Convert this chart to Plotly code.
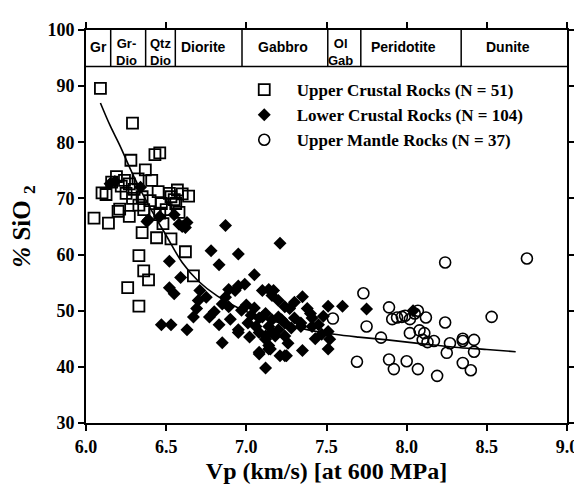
import plotly.graph_objects as go

# ---------------- data ----------------
upper_x = [6.09, 6.29, 6.43, 6.46, 6.28, 6.37, 6.19, 6.24, 6.325, 6.41,
           6.27, 6.10, 6.125, 6.25, 6.29, 6.35, 6.52, 6.57, 6.64, 6.47,
           6.56, 6.50, 6.46, 6.43, 6.21, 6.27, 6.36, 6.05, 6.14, 6.35,
           6.44, 6.53, 6.62, 6.33, 6.36, 6.39, 6.67, 6.26, 6.33, 6.20,
           6.53, 6.16, 6.22, 6.30, 6.40, 6.55, 6.60, 6.45, 6.58, 6.33, 6.48]
upper_y = [89.6, 83.4, 77.8, 78.1, 76.8, 75.1, 73.9, 73.2, 73.5, 73.2,
           72.6, 71.0, 70.7, 70.9, 70.0, 70.3, 70.9, 71.5, 70.4, 69.1,
           69.1, 68.0, 67.4, 67.1, 68.1, 66.8, 68.0, 66.5, 65.6, 63.9,
           63.0, 62.8, 60.5, 59.8, 57.1, 55.5, 56.2, 54.1, 50.8, 67.7,
           70.3, 72.9, 72.2, 71.6, 69.6, 69.8, 70.8, 71.2, 67.5, 68.8, 65.5]

lower_x = [6.15, 6.18, 6.34, 6.39, 6.46, 6.38, 6.55, 6.58, 6.63, 6.62,
           6.60, 6.87, 6.78, 6.95, 6.83, 6.52, 6.59, 7.05, 7.21, 6.52,
           6.55, 6.71, 6.75, 6.70, 6.89, 6.95, 6.99, 6.87, 6.85, 6.89,
           7.14, 7.16, 7.20, 7.24, 6.69, 6.67, 6.77, 6.83, 6.47, 6.53,
           6.63, 6.85, 6.97, 7.03, 7.08, 7.01, 6.95, 7.06, 7.12, 7.16,
           7.20, 7.14, 7.20, 7.24, 7.08, 7.12, 7.18, 7.08, 7.14, 7.17,
           7.10, 7.35, 7.27, 7.38, 7.51, 7.60, 7.75, 8.04, 7.22, 7.30,
           7.34, 7.41, 7.45, 7.51, 7.47, 7.52, 7.41, 7.16, 7.24, 7.28,
           7.34, 7.14, 7.24, 7.35, 7.51, 7.12, 7.25, 7.21, 7.08, 7.15,
           6.95, 7.10, 7.12, 6.93, 7.00, 7.05, 7.30, 7.40, 7.48, 6.80,
           6.90, 7.26, 7.43, 7.02]
lower_y = [72.6, 73.0, 72.0, 66.2, 66.8, 65.9, 67.1, 65.4, 65.7, 64.8,
           65.0, 65.2, 60.7, 60.1, 58.2, 58.8, 55.9, 56.4, 62.0, 54.1,
           53.0, 53.6, 52.4, 51.8, 53.8, 54.4, 54.7, 52.4, 51.2, 50.7,
           53.8, 52.7, 51.8, 50.7, 50.4, 48.9, 48.9, 47.5, 47.5, 47.5,
           46.6, 44.3, 50.1, 49.2, 48.7, 47.8, 46.6, 47.2, 49.5, 48.4,
           48.9, 47.2, 46.6, 47.8, 46.1, 44.9, 45.5, 42.6, 43.2, 53.6,
           53.6, 52.5, 50.4, 50.4, 50.8, 50.8, 50.3, 50.0, 48.4, 48.7,
           47.8, 48.7, 47.5, 46.3, 45.8, 44.9, 47.2, 46.1, 45.5, 46.9,
           47.2, 43.8, 42.0, 42.9, 43.2, 39.8, 42.0, 42.0, 42.3, 43.2,
           46.1, 48.9, 45.5, 53.6, 51.0, 50.5, 51.5, 49.5, 49.0, 49.8,
           48.5, 44.2, 45.0, 45.3]

mantle_x = [7.54, 7.69, 7.73, 7.75, 7.84, 7.89, 7.89, 7.92, 7.94, 7.97,
            7.99, 8.00, 8.02, 8.07, 8.12, 8.02, 8.08, 8.07, 8.10, 8.13,
            8.17, 8.19, 8.24, 8.24, 8.25, 8.35, 8.35, 8.35, 8.40, 8.42,
            8.42, 8.53, 8.75, 8.05, 7.91, 8.11, 8.27]
mantle_y = [48.6, 40.9, 53.1, 47.2, 45.2, 50.6, 41.3, 39.6, 48.8, 48.9,
            49.1, 41.0, 48.5, 50.0, 48.8, 46.0, 46.5, 39.6, 44.8, 44.4,
            44.6, 38.4, 47.9, 58.6, 42.5, 45.0, 44.6, 40.7, 39.4, 44.8,
            42.7, 48.9, 59.3, 49.5, 48.5, 46.0, 44.2]

curve_x = [6.09, 6.15, 6.21, 6.30, 6.40, 6.50, 6.60, 6.70, 6.82, 6.95,
           7.10, 7.25, 7.40, 7.55, 7.70, 7.88, 8.10, 8.30, 8.50, 8.68]
curve_y = [87.0, 83.0, 79.5, 73.8, 68.3, 63.4, 58.6, 55.3, 52.6, 50.5,
           48.8, 47.5, 46.5, 45.8, 45.3, 44.8, 44.1, 43.5, 43.1, 42.7]

series_names = ["Upper Crustal Rocks (N = 51)",
                "Lower Crustal Rocks (N = 104)",
                "Upper Mantle Rocks (N = 37)"]

rock_bounds = [6.0, 6.154, 6.372, 6.557, 6.973, 7.508, 7.714, 8.34, 9.0]
rock_labels = ["Gr", "Gr-<br>Dio", "Qtz<br>Dio", "Diorite", "Gabbro",
               "Ol<br>Gab", "Peridotite", "Dunite"]
rock_label_x = [6.080, 6.255, 6.462, 6.735, 7.23, 7.585, 7.98, 8.63]

x_ticks = [6.0, 6.5, 7.0, 7.5, 8.0, 8.5, 9.0]
y_ticks = [30, 40, 50, 60, 70, 80, 90, 100]

band_bottom = 93.5
band_top = 100
single_row = 96.95
double_center = 96.15

# ---------------- figure ----------------
fig = go.Figure()

fig.add_trace(go.Scatter(x=curve_x, y=curve_y, mode="lines",
                         line=dict(color="black", width=1.6, shape="spline"),
                         showlegend=False, hoverinfo="skip"))

fig.add_trace(go.Scatter(x=upper_x, y=upper_y, mode="markers", name=series_names[0],
                         marker=dict(symbol="square-open", size=11, color="black",
                                     line=dict(width=1.8, color="black"))))
fig.add_trace(go.Scatter(x=lower_x, y=lower_y, mode="markers", name=series_names[1],
                         marker=dict(symbol="diamond", size=10, color="black",
                                     line=dict(width=0))))
fig.add_trace(go.Scatter(x=mantle_x, y=mantle_y, mode="markers", name=series_names[2],
                         marker=dict(symbol="circle-open", size=11, color="black",
                                     line=dict(width=1.6, color="black"))))

shapes = [dict(type="line", xref="x", yref="y", x0=rock_bounds[0], x1=rock_bounds[-1],
               y0=band_bottom, y1=band_bottom, line=dict(color="black", width=1.5))]
for b in rock_bounds[1:-1]:
    shapes.append(dict(type="line", xref="x", yref="y", x0=b, x1=b,
                       y0=band_bottom, y1=band_top, line=dict(color="black", width=1.5)))

annotations = []
for lx, t in zip(rock_label_x, rock_labels):
    two = "<br>" in t
    annotations.append(dict(x=lx, y=double_center if two else single_row,
                            xref="x", yref="y", text=t,
                            showarrow=False, xanchor="center", yanchor="middle",
                            align="center", borderpad=0,
                            font=dict(family="Liberation Sans", size=13 if two else 14,
                                      color="black", weight="bold")))

fig.update_layout(
    width=582, height=484,
    margin=dict(l=76, r=20, t=15, b=65),
    paper_bgcolor="white", plot_bgcolor="white",
    shapes=shapes, annotations=annotations,
    showlegend=True,
    legend=dict(x=0.303, y=0.893, xanchor="left", yanchor="top",
                bgcolor="rgba(0,0,0,0)", borderwidth=0,
                font=dict(family="Liberation Serif", size=17, color="black", weight="bold"),
                itemwidth=55, tracegroupgap=0, traceorder="normal"),
    xaxis=dict(range=[6.0, 9.0], tickvals=x_ticks, ticktext=[f"{v:.1f}" for v in x_ticks],
               ticks="outside", ticklen=6, tickwidth=1.5, tickcolor="black",
               showline=True, linecolor="black", linewidth=2, mirror="ticks",
               showgrid=False, zeroline=False,
               tickfont=dict(family="Liberation Serif", size=18, color="black", weight="bold"),
               title=dict(text="Vp (km/s) [at 600 MPa]", standoff=7,
                          font=dict(family="Liberation Serif", size=24, color="black",
                                    weight="bold"))),
    yaxis=dict(range=[30, 100], tickvals=y_ticks,
               ticks="outside", ticklen=6, tickwidth=1.5, tickcolor="black",
               showline=True, linecolor="black", linewidth=2, mirror="ticks",
               showgrid=False, zeroline=False,
               tickfont=dict(family="Liberation Serif", size=18, color="black", weight="bold"),
               title=dict(text="<i>%</i> SiO <sub>2</sub>", standoff=10,
                          font=dict(family="Liberation Serif", size=25, color="black",
                                    weight="bold"))),
)

fig.write_html("out.html")
